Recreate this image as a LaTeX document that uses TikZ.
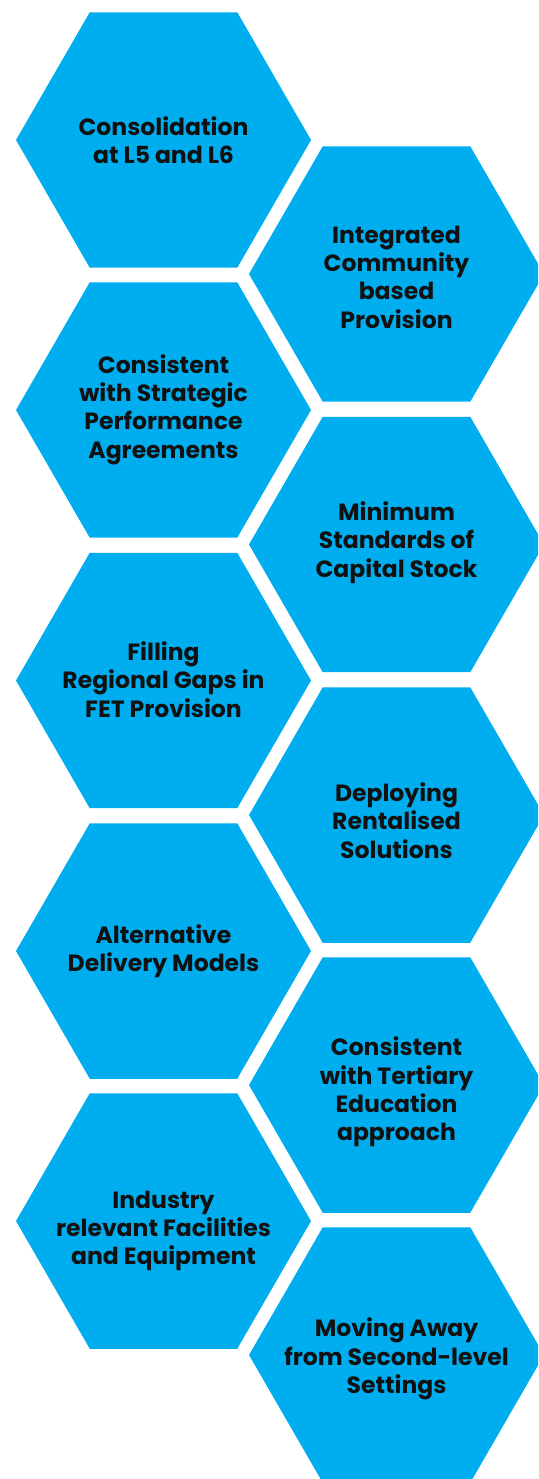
\documentclass[tikz,border=0pt]{standalone}
\usepackage{fontspec}
\setmainfont{Poppins}
\usetikzlibrary{shapes.geometric}
\definecolor{hexblue}{HTML}{00AEEF}
\definecolor{hextext}{HTML}{111111}
\begin{document}
\begin{tikzpicture}[x=1pt,y=-1pt,
  hexnode/.style={regular polygon, regular polygon sides=6,
    minimum size=295pt, inner sep=0pt, outer sep=0pt, fill=hexblue, draw=none},
  hextxt/.style={align=center, text=hextext, font=\bfseries\fontsize{23.5}{28.3}\selectfont, inner sep=0pt}]
\useasboundingbox (0,0) rectangle (538,1479);
\clip (0,0) rectangle (538,1479);
% left column
\node[hexnode] (l1) at (163.5,140) {};
\node[hexnode] (l2) at (163.5,410) {};
\node[hexnode] (l3) at (163.5,680.5) {};
\node[hexnode] (l4) at (163.5,951) {};
\node[hexnode] (l5) at (163.5,1221) {};
% right column
\node[hexnode] (r1) at (396.5,274) {};
\node[hexnode] (r2) at (396.5,544.5) {};
\node[hexnode] (r3) at (396.5,815) {};
\node[hexnode] (r4) at (396.5,1085) {};
\node[hexnode] (r5) at (396.5,1355) {};
% texts
\node[hextxt] (tl1) at (l1) {Consolidation\\at L5 and L6};
\node[hextxt] (tr1) at ([yshift=-3]r1.center) {Integrated\\Community\\based\\Provision};
\node[hextxt] (tl2) at ([yshift=0.5]l2.center) {Consistent\\with Strategic\\Performance\\Agreements};
\node[hextxt] (tr2) at ([yshift=2]r2.center) {Minimum\\Standards of\\Capital Stock};
\node[hextxt] (tl3) at ([yshift=1]l3.center) {Filling\\Regional Gaps in\\FET Provision};
\node[hextxt] (tr3) at ([yshift=-5.5]r3.center) {Deploying\\Rentalised\\Solutions};
\node[hextxt] (tl4) at (l4) {Alternative\\Delivery Models};
\node[hextxt] (tr4) at ([yshift=-7]r4.center) {Consistent\\with Tertiary\\Education\\approach};
\node[hextxt] (tl5) at ([yshift=-10]l5.center) {Industry\\relevant Facilities\\and Equipment};
\node[hextxt] (tr5) at ([yshift=-4]r5.center) {Moving Away\\from Second-level\\Settings};
\end{tikzpicture}
\end{document}
